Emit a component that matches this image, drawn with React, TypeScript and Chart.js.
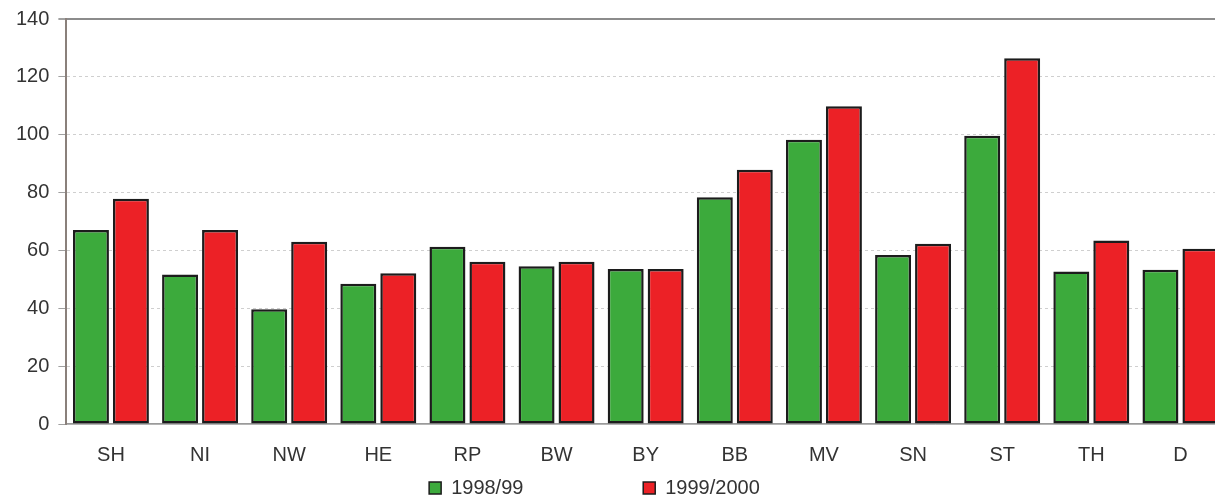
import React, { useEffect, useRef } from "react";
import { Chart, registerables } from "chart.js";

Chart.register(...registerables);

const categories = ["SH", "NI", "NW", "HE", "RP", "BW", "BY", "BB", "MV", "SN", "ST", "TH", "D"];
const values1998 = [67.1, 51.7, 39.7, 48.5, 61.3, 54.5, 53.6, 78.4, 98.3, 58.4, 99.6, 52.7, 53.3];
const values1999 = [77.9, 67.1, 63.0, 52.1, 56.1, 56.1, 53.6, 87.9, 109.8, 62.3, 126.4, 63.4, 60.6];
const seriesNames = ["1998/99", "1999/2000"];
const yMin = 0;
const yMax = 140;
const yStep = 20;

const FONT = "'Liberation Sans', Arial, Helvetica, sans-serif";

export default function App() {
  const canvasRef = useRef<HTMLCanvasElement | null>(null);

  useEffect(() => {
    if (!canvasRef.current) return;
    const spacerItem = (n: number): any => ({
      text: " ".repeat(n),
      fillStyle: "rgba(0,0,0,0)",
      strokeStyle: "rgba(0,0,0,0)",
      lineWidth: 0,
      hidden: false,
      datasetIndex: -1,
    });
    const chart = new Chart(canvasRef.current, {
      type: "bar",
      data: {
        labels: categories,
        datasets: [
          {
            label: seriesNames[0],
            data: values1998,
            backgroundColor: "#3caa3c",
            borderColor: "#1c1c1c",
            borderWidth: 2.5,
            borderSkipped: false,
          },
          {
            label: seriesNames[1],
            data: values1999,
            backgroundColor: "#ec2126",
            borderColor: "#1c1c1c",
            borderWidth: 2.5,
            borderSkipped: false,
          },
        ],
      },
      options: {
        animation: false,
        responsive: true,
        maintainAspectRatio: false,
        categoryPercentage: 0.897,
        barPercentage: 0.9,
        layout: { padding: { left: 154, right: 0, top: 19, bottom: 0 } },
        font: { family: FONT, size: 20 },
        scales: {
          x: {
            grid: { display: false, drawTicks: true, tickLength: 18 },
            border: { display: true, color: "#9a9a9a", width: 1.5 },
            ticks: { color: "#333", font: { family: FONT, size: 20 }, padding: 1 },
          },
          y: {
            min: yMin,
            max: yMax,
            ticks: {
              stepSize: yStep,
              color: "#333",
              font: { family: FONT, size: 20, lineHeight: 1 },
              padding: 9,
            },
            grid: {
              drawTicks: true,
              tickLength: 8,
              tickColor: "#a0a0a0",
              color: (ctx: any) => (ctx.tick && ctx.tick.value === yMax ? "#8c8c8c" : "#cfcfcf"),
              lineWidth: (ctx: any) => (ctx.tick && ctx.tick.value === yMax ? 2 : 1),
            },
            border: {
              display: true,
              color: "#8a807b",
              width: 2,
              dash: (ctx: any) =>
                ctx.tick && ctx.tick.value !== yMax && ctx.tick.value !== yMin ? [3, 3] : [],
            },
          },
        },
        plugins: {
          tooltip: { enabled: false },
          legend: {
            display: true,
            position: "bottom",
            onClick: () => {},
            labels: {
              color: "#333",
              font: { family: FONT, size: 20 },
              boxWidth: 12,
              boxHeight: 12,
              padding: 10,
              generateLabels: (c: any) => {
                const items = Chart.defaults.plugins.legend.labels.generateLabels(c);
                items.forEach((it: any) => {
                  it.lineWidth = 1.5;
                });
                return [items[0], spacerItem(14), items[1], spacerItem(2)];
              },
            },
          },
        },
      } as any,
    });
    return () => chart.destroy();
  }, []);

  return (
    <div
      style={{
        position: "fixed",
        left: 0,
        top: 0,
        width: 1215,
        height: 504,
        overflow: "hidden",
        background: "#fff",
      }}
    >
      <div style={{ position: "absolute", left: -147, top: 0, width: 1372, height: 508 }}>
        <canvas ref={canvasRef} />
      </div>
    </div>
  );
}
